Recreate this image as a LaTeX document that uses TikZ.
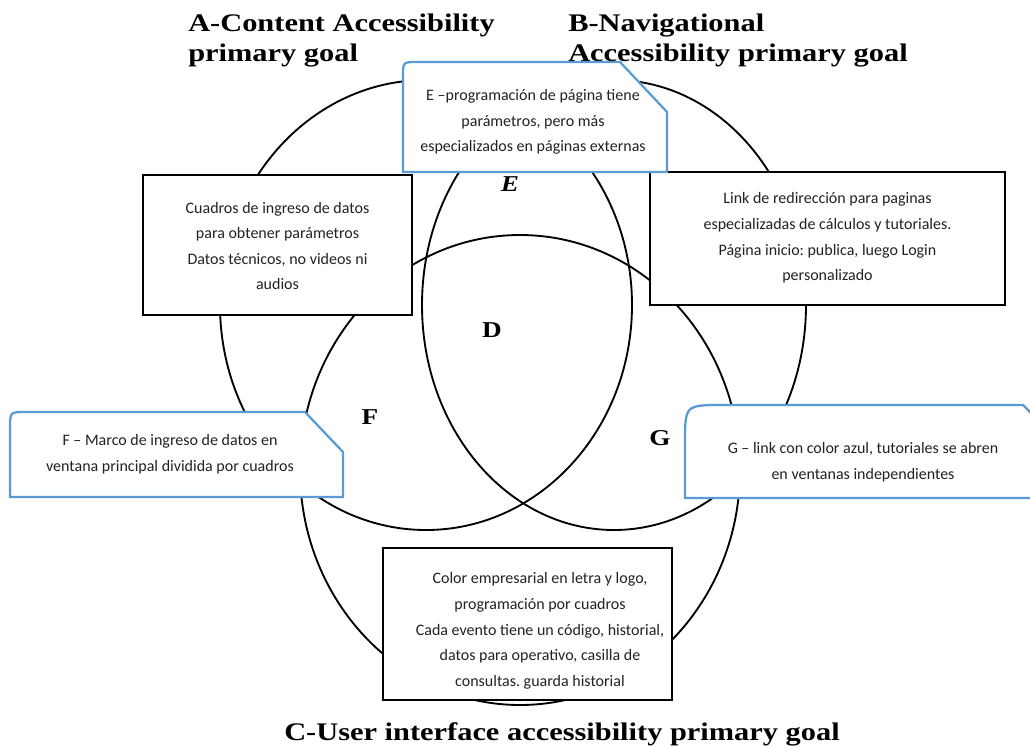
\documentclass[tikz,border=0pt]{standalone}
\usepackage{fontspec}
\setmainfont{Carlito}
\newfontfamily\goalfont[FakeStretch=1.2]{Liberation Serif}
\usetikzlibrary{positioning}
\definecolor{CalloutBlue}{HTML}{5B9BD5}
\definecolor{BoxText}{HTML}{222222}

\begin{document}
\begin{tikzpicture}[x=0.75pt,y=-0.75pt,
  goal/.style={font=\goalfont\bfseries\fontsize{19}{22.5}\selectfont,inner sep=0pt,align=left},
  zone/.style={font=\goalfont\bfseries\fontsize{17}{17}\selectfont,inner sep=0pt},
  ring/.style={draw=black,line width=1.4pt},
  plainbox/.style={fill=white,draw=black,line width=2.1pt},
  callout/.style={fill=white,draw=CalloutBlue,line width=1.7pt},
  boxtext/.style={font=\frenchspacing\fontsize{12}{19.2}\selectfont,text=BoxText,align=center,inner sep=0pt}]
 \clip (0,0) rectangle (1030,746);
 \draw[ring] (426,305) ellipse [x radius=154.5pt,y radius=168.75pt];
 \draw[ring] (614,305) ellipse [x radius=144pt,y radius=168.75pt];
 \draw[ring] (520,470) ellipse [x radius=165pt,y radius=176.25pt];
 \node[goal,anchor=north west] (goalA) at (188,14) {A-Content Accessibility\\primary goal};
 \node[goal,anchor=north west] (goalB) at (568,14) {B-Navigational\\Accessibility primary goal};
 \node[goal,anchor=base] (goalC) at (562,740) {C-User interface accessibility primary goal};
 \node[zone] (zoneD) at (492,330) {D};
 \node[zone,font=\goalfont\bfseries\itshape\fontsize{17}{17}\selectfont] (zoneE) at (510,184) {E};
 \node[zone] (zoneF) at (370,417) {F};
 \node[zone] (zoneG) at (660,438) {G};
 \filldraw[plainbox] (143,175) rectangle (412,315);
 \node[boxtext] (contenttext) at (277.5,246) {Cuadros de ingreso de datos\\para obtener parámetros\\Datos técnicos, no videos ni\\audios};
 \filldraw[plainbox] (650,172) rectangle (1005,305);
 \node[boxtext] (navtext) at (827.5,238) {Link de redirección para paginas\\especializadas de cálculos y tutoriales.\\Página inicio: publica, luego Login\\personalizado};
 \filldraw[plainbox] (383,548) rectangle (672,700);
 \node[boxtext] (uitext) at (540,631) {Color empresarial en letra y logo,\\programación por cuadros\\Cada evento tiene un código, historial,\\datos para operativo, casilla de\\consultas. guarda historial};
 \filldraw[callout] (403,172) -- (403,76) .. controls (403,62) .. (417,62) -- (620,62) -- (667,112) -- (667,172) -- cycle;
 \node[boxtext] (calloutE) at (533,122) {E –programación de página tiene\\parámetros, pero más\\especializados en páginas externas};
 \filldraw[callout] (10,497) -- (10,428) .. controls (10,412) .. (26,412) -- (305,412) -- (343,452) -- (343,497) -- cycle;
 \node[boxtext] (calloutF) at (170,454) {F – Marco de ingreso de datos en\\ventana principal dividida por cuadros};
 \filldraw[callout] (685,498) -- (685,443) .. controls (685,405) .. (723,405) -- (1023,405) -- (1045,427) -- (1045,498) -- cycle;
 \node[boxtext] (calloutG) at (863,462) {G – link con color azul, tutoriales se abren\\en ventanas independientes};
\end{tikzpicture}
\end{document}
